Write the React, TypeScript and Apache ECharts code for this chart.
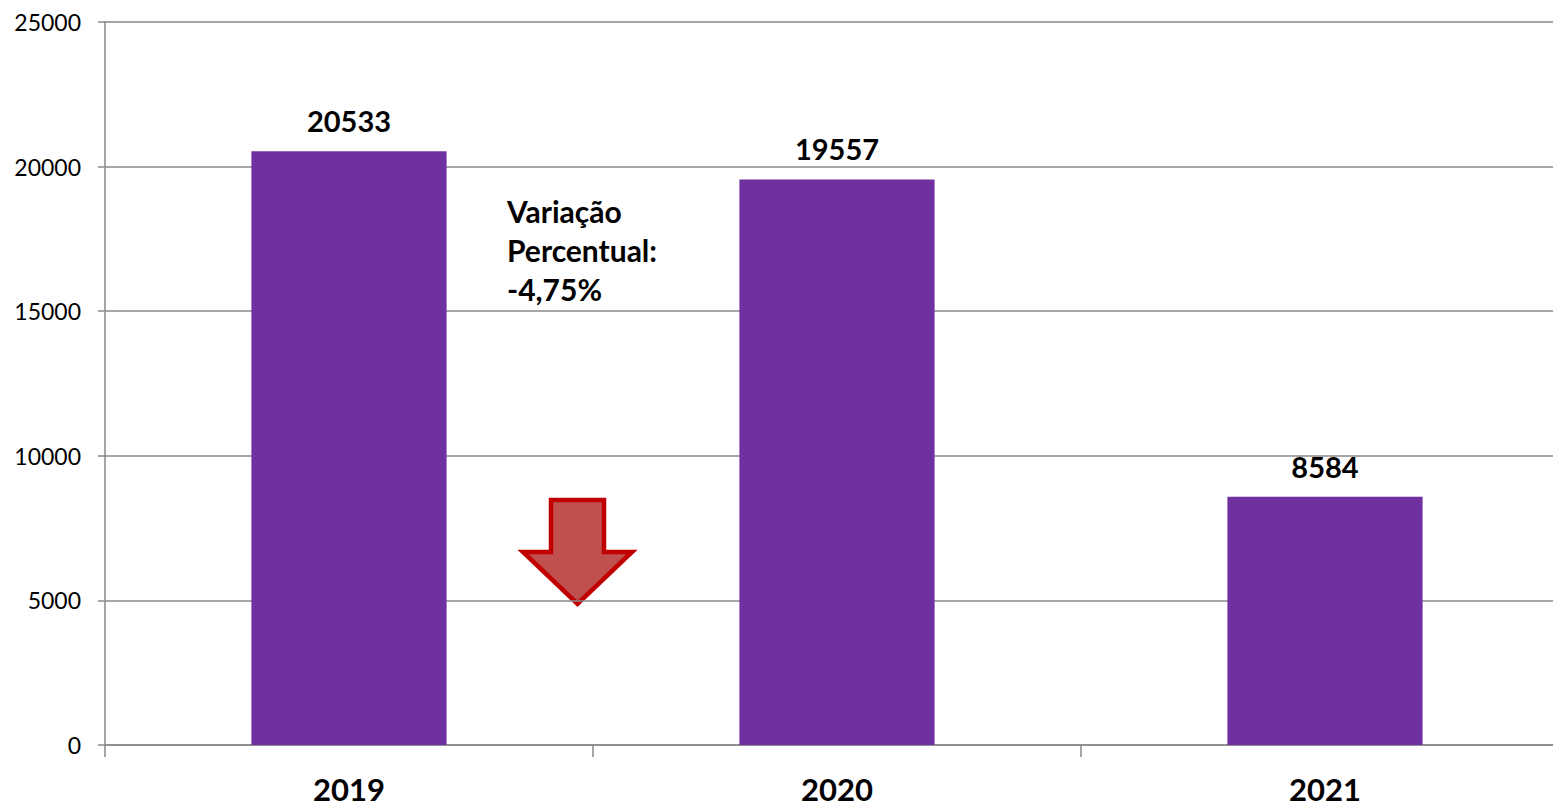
import React, { useEffect, useRef } from "react";
import * as echarts from "echarts";

const categories = ["2019", "2020", "2021"];
const values = [20533, 19557, 8584];
const yTicks = { min: 0, max: 25000, interval: 5000 };
const annotationText = "Variação\nPercentual:\n-4,75%";

const FONT = "Lato, 'Open Sans', sans-serif";

export default function App() {
  const ref = useRef<HTMLDivElement>(null);
  useEffect(() => {
    if (!ref.current) return;
    const chart = echarts.init(ref.current, null, { renderer: "svg" });
    chart.setOption({
      animation: false,
      backgroundColor: "#ffffff",
      grid: { left: 105, top: 22, right: 0, bottom: 63, containLabel: false },
      xAxis: {
        type: "category",
        data: categories,
        axisLine: { show: true, lineStyle: { color: "#888888", width: 1.5 } },
        axisTick: { show: true, length: 12, lineStyle: { color: "#888888", width: 1.5 } },
        axisLabel: {
          margin: 28,
          fontFamily: FONT,
          fontWeight: "bold",
          fontSize: 31,
          color: "#000000",
        },
      },
      yAxis: {
        type: "value",
        min: yTicks.min,
        max: yTicks.max,
        interval: yTicks.interval,
        axisLine: { show: true, lineStyle: { color: "#888888", width: 1.5 } },
        axisTick: { show: true, length: 7, lineStyle: { color: "#888888", width: 1.5 } },
        splitLine: { show: true, lineStyle: { color: "#888888", width: 1.5 } },
        axisLabel: {
          margin: 24,
          fontFamily: FONT,
          fontSize: 23,
          color: "#000000",
          formatter: (v: number) => String(v),
        },
      },
      series: [
        {
          type: "bar",
          data: values,
          barWidth: "40%",
          itemStyle: { color: "#7030A0" },
          label: {
            show: true,
            position: "top",
            distance: 16,
            fontFamily: FONT,
            fontWeight: "bold",
            fontSize: 29,
            color: "#000000",
          },
        },
      ],
      graphic: [
        {
          type: "text",
          left: 507,
          top: 191,
          style: {
            text: annotationText,
            fontFamily: FONT,
            fontWeight: "bold",
            fontSize: 30,
            lineHeight: 39,
            fill: "#000000",
          },
        },
        {
          type: "polygon",
          shape: {
            points: [
              [551, 500],
              [604, 500],
              [604, 552],
              [632, 552],
              [577.5, 604],
              [523, 552],
              [551, 552],
            ],
          },
          style: { fill: "#C0504D", stroke: "#C00000", lineWidth: 4.5, lineJoin: "miter" },
        },
      ],
    });
    return () => chart.dispose();
  }, []);
  return (
    <div
      style={{
        position: "fixed",
        left: 0,
        top: 0,
        width: 1553,
        height: 808,
        overflow: "hidden",
        background: "#ffffff",
      }}
    >
      <div ref={ref} style={{ width: 1569, height: 808 }} />
    </div>
  );
}
